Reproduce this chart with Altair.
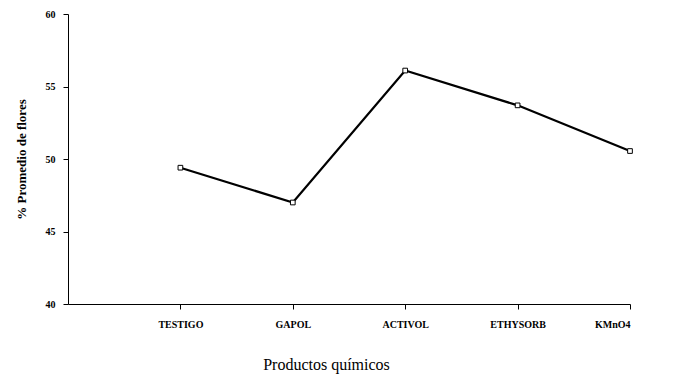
import altair as alt
import pandas as pd

productos = ["TESTIGO", "GAPOL", "ACTIVOL", "ETHYSORB", "KMnO4"]
posicion = [1, 2, 3, 4, 5]
promedio = [49.4, 47.0, 56.1, 53.7, 50.55]

df = pd.DataFrame({"pos": posicion, "producto": productos, "valor": promedio})

label_expr = "[" + ",".join(f"'{p}'" for p in [""] + productos) + "][datum.value]"

base = alt.Chart(df).encode(
    x=alt.X(
        "pos:Q",
        scale=alt.Scale(domain=[0, 5], nice=False, zero=False),
        axis=alt.Axis(
            values=posicion,
            labelExpr=label_expr,
            title="Productos químicos",
            titleFont="Liberation Serif",
            titleFontSize=16,
            titleFontWeight="normal",
            titleX=258,
            titleY=60,
            titleAnchor="middle",
            titleBaseline="middle",
            labelFont="Liberation Serif",
            labelFontSize=10,
            labelFontWeight="bold",
            labelPadding=10,
            tickSize=5,
            grid=False,
            domainColor="black",
            tickColor="black",
            labelColor="black",
            titleColor="black",
        ),
    ),
    y=alt.Y(
        "valor:Q",
        scale=alt.Scale(domain=[40, 60], nice=False, zero=False),
        axis=alt.Axis(
            values=[40, 45, 50, 55, 60],
            title="% Promedio de flores",
            titleFont="Liberation Serif",
            titleFontSize=13,
            titleFontWeight="bold",
            titlePadding=17,
            labelFont="Liberation Serif",
            labelFontSize=10,
            labelFontWeight="bold",
            labelPadding=8,
            tickSize=5,
            grid=False,
            domainColor="black",
            tickColor="black",
            labelColor="black",
            titleColor="black",
        ),
    ),
)

line = base.mark_line(color="black", strokeWidth=2.2)
pts = base.mark_point(shape="square", size=22, filled=True, fill="white",
                      stroke="black", strokeWidth=1, opacity=1)

chart = (line + pts).properties(
    width=562,
    height=290,
    autosize=alt.AutoSizeParams(type="none"),
    padding={"left": 60, "top": 6, "right": 30, "bottom": 70},
    background="white",
).configure_view(stroke=None)

chart.save("out.html", embed_options={"renderer": "svg", "actions": False})
